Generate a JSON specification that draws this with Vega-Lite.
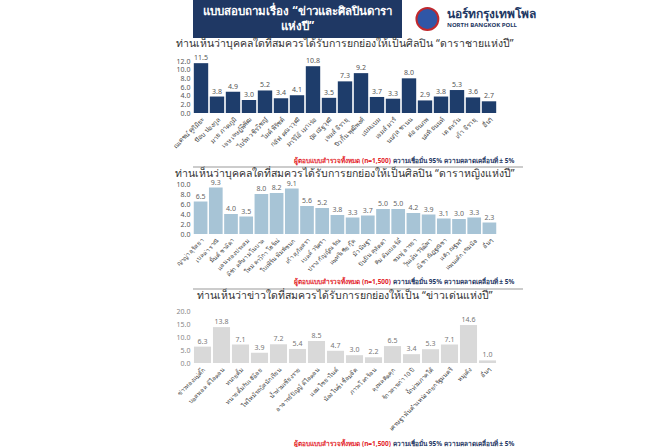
{
  "$schema": "https://vega.github.io/schema/vega-lite/v6.json",
  "background": "white",
  "padding": {"left": 168, "top": 0, "right": 0, "bottom": 0},
  "config": {"view": {"stroke": null}, "font": "Noto Sans"},
  "columns": 1,
  "align": "none",
  "center": false,
  "spacing": 0,
  "concat": [
    {
      "spacing": 10,
      "hconcat": [
        {
          "width": 209, "height": 38,
          "view": {"fill": "#1f3864", "stroke": null},
          "data": {"values": [{"t": "แบบสอบถามเรื่อง “ข่าวและศิลปินดารา\nแห่งปี”"}]},
          "mark": {"type": "text", "lineBreak": "\n", "color": "white", "fontSize": 11.5, "fontWeight": "bold", "lineHeight": 15, "dy": -7},
          "encoding": {"text": {"field": "t", "type": "nominal"}}
        },
        {
          "width": 140, "height": 38,
          "data": {"values": [
            {"item": "logo", "label": ""},
            {"item": "brand", "label": "นอร์ทกรุงเทพโพล"},
            {"item": "sub", "label": "NORTH BANGKOK POLL"}
          ]},
          "layer": [
            {
              "transform": [{"filter": "datum.item === 'logo'"}],
              "mark": {"type": "point", "shape": "circle", "filled": true, "color": "#2f56a6", "size": 480, "stroke": "#c0282d", "strokeWidth": 2, "opacity": 1},
              "encoding": {
                "x": {"datum": 0.11, "type": "quantitative", "scale": {"domain": [0, 1]}, "axis": null},
                "y": {"datum": 0.5, "type": "quantitative", "scale": {"domain": [0, 1]}, "axis": null}
              }
            },
            {
              "transform": [{"filter": "datum.item === 'brand'"}],
              "mark": {"type": "text", "align": "left", "color": "#1f3864", "fontSize": 12, "fontWeight": "bold"},
              "encoding": {
                "x": {"datum": 0.25, "type": "quantitative"},
                "y": {"datum": 0.64, "type": "quantitative"},
                "text": {"field": "label", "type": "nominal"}
              }
            },
            {
              "transform": [{"filter": "datum.item === 'sub'"}],
              "mark": {"type": "text", "align": "left", "color": "#1f3864", "fontSize": 6, "fontWeight": "bold"},
              "encoding": {
                "x": {"datum": 0.25, "type": "quantitative"},
                "y": {"datum": 0.35, "type": "quantitative"},
                "text": {"field": "label", "type": "nominal"}
              }
            }
          ]
        }
      ]
    },
    {
      "width": 304, "height": 52,
      "title": {"text": "ท่านเห็นว่าบุคคลใดที่สมควรได้รับการยกย่องให้เป็นศิลปิน “ดาราชายแห่งปี”", "fontSize": 10.5, "fontWeight": "normal", "color": "#333333", "anchor": "middle", "frame": "group", "offset": 5},
      "data": {"values": [
        {"name": "ณเดชน์ คูกิมิยะ", "pct": 11.5},
        {"name": "ป๊อบ ปองกูล", "pct": 3.8},
        {"name": "มาย ภาคภูมิ", "pct": 4.9},
        {"name": "เจษ เจษฎ์พิพัฒ", "pct": 3.0},
        {"name": "ไบร์ท วชิรวิชญ์", "pct": 5.2},
        {"name": "ไมค์ พิรัชต์", "pct": 3.4},
        {"name": "กลัฟ คณาวุฒิ", "pct": 4.1},
        {"name": "มาริโอ้ เมาเร่อ", "pct": 10.8},
        {"name": "ป๋อ ณัฐวุฒิ", "pct": 3.5},
        {"name": "เจมส์ จิรายุ", "pct": 7.3},
        {"name": "บิวกิ้น พุฒิพงศ์", "pct": 9.2},
        {"name": "แบมแบม", "pct": 3.7},
        {"name": "เจมส์ มาร์", "pct": 3.3},
        {"name": "นนกุล ชานน", "pct": 8.0},
        {"name": "ต่อ ธนภพ", "pct": 2.9},
        {"name": "นนท์ ธนนท์", "pct": 3.8},
        {"name": "เต ตะวัน", "pct": 5.3},
        {"name": "เก้า จิรายุ", "pct": 3.6},
        {"name": "อื่นๆ", "pct": 2.7}
      ]},
      "encoding": {
        "x": {"field": "name", "type": "nominal", "sort": null, "scale": {"paddingInner": 0.1, "paddingOuter": 0.05},
              "axis": {"title": null, "labelAngle": -45, "labelFontSize": 6.5, "labelColor": "#444444", "ticks": false, "domain": false, "labelPadding": 3, "labelLimit": 200}},
        "y": {"field": "pct", "type": "quantitative", "scale": {"domain": [0, 12]},
              "axis": {"title": null, "values": [0, 2, 4, 6, 8, 10, 12], "format": ".1f", "labelFontSize": 7, "labelColor": "#555555", "grid": false, "domain": false, "ticks": false, "labelPadding": 3, "minExtent": 25}}
      },
      "layer": [
        {"mark": {"type": "bar", "color": "#1e3d6b"}},
        {"mark": {"type": "text", "dy": -5, "fontSize": 7, "color": "#555555"}, "encoding": {"text": {"field": "pct", "type": "quantitative", "format": ".1f"}}}
      ]
    },
    {
      "width": 330, "height": 17,
      "data": {"values": [
        {"part": "sample", "note": "ผู้ตอบแบบสำรวจทั้งหมด (n=1,500)"},
        {"part": "confidence", "note": "ความเชื่อมั่น 95% ความคลาดเคลื่อนที่ ± 5%"}
      ]},
      "layer": [
        {"transform": [{"filter": "datum.part === 'sample'"}],
         "mark": {"type": "text", "align": "right", "color": "#e3262b", "fontSize": 6.5, "fontWeight": "bold"},
         "encoding": {"text": {"field": "note", "type": "nominal"},
                      "x": {"datum": 0.6, "type": "quantitative", "scale": {"domain": [0, 1]}, "axis": null},
                      "y": {"datum": 0.35, "type": "quantitative", "scale": {"domain": [0, 1]}, "axis": null}}},
        {"transform": [{"filter": "datum.part === 'confidence'"}],
         "mark": {"type": "text", "align": "left", "dx": 2, "color": "#1f3864", "fontSize": 6.5, "fontWeight": "bold"},
         "encoding": {"text": {"field": "note", "type": "nominal"}, "x": {"datum": 0.6, "type": "quantitative"}, "y": {"datum": 0.35, "type": "quantitative"}}},
        {"transform": [{"filter": "datum.part === 'sample'"}],
         "mark": {"type": "rule", "color": "#999999", "strokeWidth": 1},
         "encoding": {"y": {"datum": 0, "type": "quantitative"}}}
      ]
    },
    {
      "width": 304, "height": 50,
      "title": {"text": "ท่านเห็นว่าบุคคลใดที่สมควรได้รับการยกย่องให้เป็นศิลปิน “ดาราหญิงแห่งปี”", "fontSize": 10.5, "fontWeight": "normal", "color": "#333333", "anchor": "middle", "frame": "group", "offset": -1},
      "data": {"values": [
        {"name": "ญาญ่า อุรัสยา", "pct": 6.5},
        {"name": "เบลล่า ราณี", "pct": 9.3},
        {"name": "มิ้นต์ ชาลิดา", "pct": 4.0},
        {"name": "แอน ทองประสม", "pct": 3.5},
        {"name": "ลิซ่า ลลิษา มโนบาล", "pct": 8.0},
        {"name": "ใหม่ ดาวิกา โฮร์เน่", "pct": 8.2},
        {"name": "ใบเฟิร์น พิมพ์ชนก", "pct": 9.1},
        {"name": "เก้า สุภัสสรา", "pct": 5.6},
        {"name": "เบลล์ วริศรา", "pct": 5.2},
        {"name": "ปราง กัญญ์ณรัณ", "pct": 3.8},
        {"name": "แพทริเซีย กู๊ด", "pct": 3.3},
        {"name": "มิว นิษฐา", "pct": 3.7},
        {"name": "ปันปัน สุทัตตา", "pct": 5.0},
        {"name": "คิม คิมเบอร์ลี่", "pct": 5.0},
        {"name": "ชมพู่ อารยา", "pct": 4.2},
        {"name": "วุ้นเส้น วิริฒิพา", "pct": 3.9},
        {"name": "ณิชา ณัฏฐณิชา", "pct": 3.1},
        {"name": "แต้ว ณฐพร", "pct": 3.0},
        {"name": "แพนเค้ก เขมนิจ", "pct": 3.3},
        {"name": "อื่นๆ", "pct": 2.3}
      ]},
      "encoding": {
        "x": {"field": "name", "type": "nominal", "sort": null, "scale": {"paddingInner": 0.1, "paddingOuter": 0.05},
              "axis": {"title": null, "labelAngle": -45, "labelFontSize": 6, "labelColor": "#444444", "ticks": false, "domain": false, "labelPadding": 3, "labelLimit": 200}},
        "y": {"field": "pct", "type": "quantitative", "scale": {"domain": [0, 10]},
              "axis": {"title": null, "values": [0, 2, 4, 6, 8, 10], "format": ".1f", "labelFontSize": 7, "labelColor": "#555555", "grid": false, "domain": false, "ticks": false, "labelPadding": 3, "minExtent": 25}}
      },
      "layer": [
        {"mark": {"type": "bar", "color": "#a7c4d6"}},
        {"mark": {"type": "text", "dy": -5, "fontSize": 7, "color": "#666666"}, "encoding": {"text": {"field": "pct", "type": "quantitative", "format": ".1f"}}}
      ]
    },
    {
      "width": 330, "height": 11,
      "data": {"values": [
        {"part": "sample", "note": "ผู้ตอบแบบสำรวจทั้งหมด (n=1,500)"},
        {"part": "confidence", "note": "ความเชื่อมั่น 95% ความคลาดเคลื่อนที่ ± 5%"}
      ]},
      "layer": [
        {"transform": [{"filter": "datum.part === 'sample'"}],
         "mark": {"type": "text", "align": "right", "color": "#e3262b", "fontSize": 6.5, "fontWeight": "bold"},
         "encoding": {"text": {"field": "note", "type": "nominal"},
                      "x": {"datum": 0.6, "type": "quantitative", "scale": {"domain": [0, 1]}, "axis": null},
                      "y": {"datum": 0.62, "type": "quantitative", "scale": {"domain": [0, 1]}, "axis": null}}},
        {"transform": [{"filter": "datum.part === 'confidence'"}],
         "mark": {"type": "text", "align": "left", "dx": 2, "color": "#1f3864", "fontSize": 6.5, "fontWeight": "bold"},
         "encoding": {"text": {"field": "note", "type": "nominal"}, "x": {"datum": 0.6, "type": "quantitative"}, "y": {"datum": 0.62, "type": "quantitative"}}},
        {"transform": [{"filter": "datum.part === 'sample'"}],
         "mark": {"type": "rule", "color": "#999999", "strokeWidth": 1},
         "encoding": {"y": {"datum": 0, "type": "quantitative"}}}
      ]
    },
    {
      "width": 304, "height": 52,
      "title": {"text": "ท่านเห็นว่าข่าวใดที่สมควรได้รับการยกย่องให้เป็น “ข่าวเด่นแห่งปี”", "fontSize": 10.5, "fontWeight": "normal", "color": "#333333", "anchor": "middle", "frame": "group", "offset": 6},
      "data": {"values": [
        {"name": "ข่าวทองแม่ตั๊ก", "pct": 6.3},
        {"name": "บอสพอล ดิไอคอน", "pct": 13.8},
        {"name": "ทนายตั้ม", "pct": 7.1},
        {"name": "ทนายตั้มกับเจ๊อ้อย", "pct": 3.9},
        {"name": "ไฟไหม้รถบัสนักเรียน", "pct": 7.2},
        {"name": "น้ำท่วมเชียงราย", "pct": 5.4},
        {"name": "อาจารย์ปัญญ์ ดิไอคอน", "pct": 8.5},
        {"name": "แอม ไซยาไนด์", "pct": 4.7},
        {"name": "น้องไนซ์ เชื่อมจิต", "pct": 3.0},
        {"name": "ภาวะโลกร้อน", "pct": 2.2},
        {"name": "ลุงพลติดคุก", "pct": 6.5},
        {"name": "ข้าวสารเก่า 10 ปี", "pct": 3.4},
        {"name": "น้ำท่วมภาคใต้", "pct": 5.3},
        {"name": "เศรษฐา พ้นตำแหน่งนายกรัฐมนตรี", "pct": 7.1},
        {"name": "หมูเด้ง", "pct": 14.6},
        {"name": "อื่นๆ", "pct": 1.0}
      ]},
      "encoding": {
        "x": {"field": "name", "type": "nominal", "sort": null, "scale": {"paddingInner": 0.1, "paddingOuter": 0.05},
              "axis": {"title": null, "labelAngle": -45, "labelFontSize": 6, "labelColor": "#444444", "ticks": false, "domain": false, "labelPadding": 3, "labelLimit": 200}},
        "y": {"field": "pct", "type": "quantitative", "scale": {"domain": [0, 20]},
              "axis": {"title": null, "values": [0, 5, 10, 15, 20], "format": ".1f", "labelFontSize": 7, "labelColor": "#888888", "grid": false, "domain": false, "ticks": false, "labelPadding": 3, "minExtent": 25}}
      },
      "layer": [
        {"mark": {"type": "bar", "color": "#d9d9d9"}},
        {"mark": {"type": "text", "dy": -5, "fontSize": 7, "color": "#777777"}, "encoding": {"text": {"field": "pct", "type": "quantitative", "format": ".1f"}}}
      ]
    },
    {
      "width": 330, "height": 16,
      "data": {"values": [
        {"part": "sample", "note": "ผู้ตอบแบบสำรวจทั้งหมด (n=1,500)"},
        {"part": "confidence", "note": "ความเชื่อมั่น 95% ความคลาดเคลื่อนที่ ± 5%"}
      ]},
      "layer": [
        {"transform": [{"filter": "datum.part === 'sample'"}],
         "mark": {"type": "text", "align": "right", "color": "#e3262b", "fontSize": 6.5, "fontWeight": "bold"},
         "encoding": {"text": {"field": "note", "type": "nominal"},
                      "x": {"datum": 0.6, "type": "quantitative", "scale": {"domain": [0, 1]}, "axis": null},
                      "y": {"datum": 0.25, "type": "quantitative", "scale": {"domain": [0, 1]}, "axis": null}}},
        {"transform": [{"filter": "datum.part === 'confidence'"}],
         "mark": {"type": "text", "align": "left", "dx": 2, "color": "#1f3864", "fontSize": 6.5, "fontWeight": "bold"},
         "encoding": {"text": {"field": "note", "type": "nominal"}, "x": {"datum": 0.6, "type": "quantitative"}, "y": {"datum": 0.25, "type": "quantitative"}}}
      ]
    }
  ]
}
